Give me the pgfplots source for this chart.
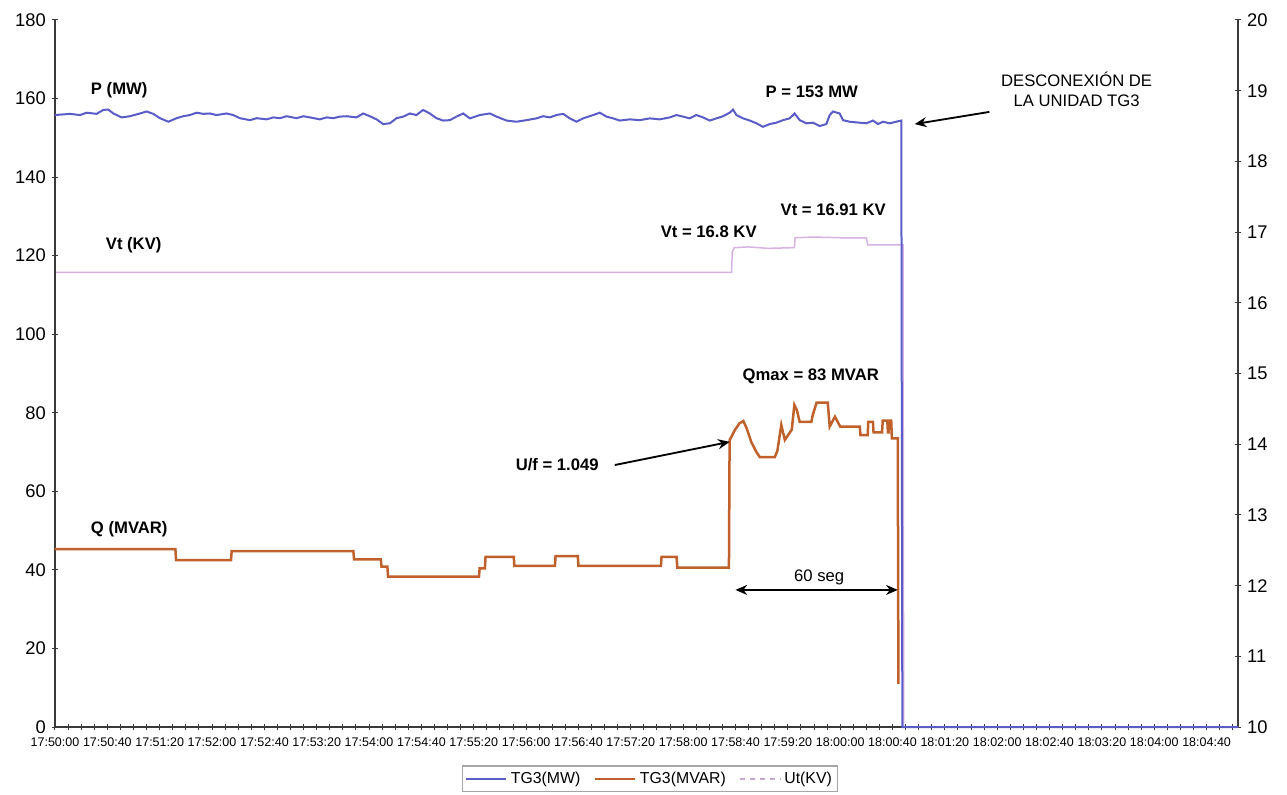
\documentclass[border=0pt]{standalone}
\usepackage{fontspec}
\setmainfont{Liberation Sans}
\usepackage{pgfplots}
\usepackage{pgfplotstable}
\pgfplotsset{compat=1.18}
\usetikzlibrary{arrows.meta}
\definecolor{pblue}{HTML}{5A5CC8}
\definecolor{qorange}{HTML}{C0602A}
\definecolor{ulav}{HTML}{D6B2E2}
\definecolor{axgray}{HTML}{3A3A3A}

% time in seconds after 17:50:00
\pgfplotstableread{
t P
0 155.8
11.5 156.1
19.1 155.8
24.2 156.4
31.8 156.1
36.9 157.1
40.7 157.2
44.6 156.2
50.9 155.2
57.3 155.5
64.9 156.2
70.0 156.7
75.1 156.1
80.2 155.0
86.6 154.1
92.9 155.0
98.0 155.5
103.1 155.8
108.2 156.4
113.3 156.1
118.4 156.2
123.5 155.8
131.1 156.2
136.2 155.8
141.3 155.0
149.0 154.5
154.0 155.0
161.7 154.7
166.8 155.2
171.9 155.0
177.0 155.5
184.6 155.0
189.7 155.5
194.8 155.2
202.4 154.7
207.5 155.2
212.6 155.0
217.7 155.4
222.8 155.5
230.4 155.2
235.5 156.2
240.6 155.5
245.7 154.7
250.8 153.5
255.9 153.7
261.0 155.0
266.1 155.4
271.2 156.2
276.2 155.8
281.3 157.1
286.4 156.2
291.5 155.0
296.6 154.4
301.7 154.5
306.8 155.4
311.9 156.2
317.0 154.95
324.6 155.8
332.3 156.2
337.4 155.4
345.0 154.4
352.6 154.1
360.3 154.5
367.9 154.95
373.0 155.5
378.1 155.2
383.2 155.8
388.3 156.1
393.4 154.95
398.5 154.1
403.6 154.95
411.2 155.8
416.3 156.4
421.4 155.4
426.5 154.95
431.6 154.4
439.2 154.7
446.8 154.5
454.5 154.95
462.1 154.7
469.8 155.2
474.9 155.8
479.9 155.4
485.0 154.95
490.1 155.8
495.2 155.2
500.3 154.4
505.4 154.95
510.5 155.5
515.6 156.4
518.1 157.2
520.7 155.8
525.8 154.95
530.9 154.4
536.0 153.7
541.0 152.8
546.1 153.5
551.2 153.85
556.3 154.5
561.4 154.95
565.2 156.2
569.1 154.5
574.1 153.7
579.2 153.85
584.3 153.0
589.4 153.5
592.0 155.8
594.5 156.7
599.6 156.2
602.2 154.5
607.2 154.1
614.9 153.85
620.0 153.7
625.1 154.4
628.9 153.5
632.7 154.1
637.8 153.7
646.7 154.4
647.5 0
904 0
}\Pdata

\pgfplotstableread{
t Q
0 45.3
92 45.3
92.5 42.5
134.5 42.5
135 44.8
228 44.8
228.5 42.7
249 42.7
249.5 40.8
254 40.8
254.5 38.3
324 38.3
324.5 40.4
328.5 40.4
329 43.3
350.6 43.3
351 41
382 41
382.5 43.5
399.5 43.5
400 41
463 41
463.5 43.3
475 43.3
475.5 40.6
515 40.6
515.5 73
519.5 75.6
523 77.3
526 77.9
528.6 76
532 72.6
536 70
538.6 68.7
550 68.7
552 70.3
555 76.9
557.7 73.1
563 75.7
565 82
567 80.6
569 77.7
578 77.7
579 79.4
582 82.6
590.5 82.6
592 76.5
596 79
600 76.5
615 76.5
615.5 74.3
621 74.3
621.5 77.7
625 77.7
625.5 75
632 75
632.5 78
636 78
636.5 75
637 75
637.5 78
639 78
639.5 73.5
644 73.5
644.5 11
}\Qdata

\pgfplotstableread{
t U
0 16.43
517 16.43
517.5 16.72
519 16.78
530 16.79
545 16.77
565 16.78
565.5 16.92
580 16.93
600 16.92
620 16.92
621 16.82
648 16.82
648.5 10
904 10
}\Udata

\begin{document}
\begin{tikzpicture}
\pgfplotsset{
  common/.style={
    scale only axis, width=709.8pt, height=424.2pt,
    xmin=0, xmax=904,
    axis line style={axgray, line width=0.9pt, -},
    tick align=center,
    major tick length=4pt, minor tick length=4pt,
    tick style={axgray, line width=0.6pt},
    /pgf/number format/assume math mode=true,
  }
}
% right axis (Ut) drawn first, so P and Q lie on top
\begin{axis}[common,
  ymin=10, ymax=20,
  axis y line*=right, axis x line=none,
  ytick={10,11,...,20},
  yticklabel style={font=\fontsize{11}{13}\selectfont},
  legend columns=3,
  legend style={at={(0.503,-0.0735)}, anchor=center, draw=gray!70, line width=0.8pt,
    font=\fontsize{9.5}{11}\selectfont, /tikz/every even column/.append style={column sep=6pt},
    inner sep=1.5pt},
  legend image code/.code={\draw[#1] (0cm,0cm) -- (0.85cm,0cm);},
]
\addlegendimage{pblue, line width=1.4pt}
\addlegendentry{TG3(MW)}
\addlegendimage{qorange, line width=1.6pt}
\addlegendentry{TG3(MVAR)}
\addlegendimage{ulav!80!gray, dashed, line width=0.9pt}
\addlegendentry{Ut(KV)}
\addplot[ulav, line width=0.9pt, forget plot] table[x=t,y=U] {\Udata};
\end{axis}

\begin{axis}[common,
  ymin=0, ymax=180,
  axis x line*=bottom, axis y line*=left,
  xtick={0,40,...,880}, minor xtick={0,10,...,900},
  xticklabels={17:50:00,17:50:40,17:51:20,17:52:00,17:52:40,17:53:20,17:54:00,17:54:40,17:55:20,17:56:00,17:56:40,17:57:20,17:58:00,17:58:40,17:59:20,18:00:00,18:00:40,18:01:20,18:02:00,18:02:40,18:03:20,18:04:00,18:04:40},
  xticklabel style={font=\fontsize{7.5}{9}\selectfont, yshift=-1pt},
  ytick={0,20,...,180},
  yticklabel style={font=\fontsize{11}{13}\selectfont},
  clip=false,
]
\addplot[qorange, line width=1.5pt] table[x=t,y=Q] {\Qdata};
\addplot[pblue, line width=1.2pt] table[x=t,y=P] {\Pdata};

\tikzset{ann/.style={font=\fontsize{10}{12}\selectfont\bfseries, text=black}}
\node[ann, anchor=west] at (axis cs:23,162.2) {P (MW)};
\node[ann, anchor=west] at (axis cs:538.6,161.7) {P = 153 MW};
\node[ann, anchor=west] at (axis cs:34.4,122.7) {Vt (KV)};
\node[ann, anchor=west] at (axis cs:458.4,126) {Vt = 16.8 KV};
\node[ann, anchor=west] at (axis cs:550,131.6) {Vt = 16.91 KV};
\node[ann] at (axis cs:577.5,89.4) {Qmax = 83 MVAR};
\node[ann, anchor=west] at (axis cs:347.6,66.7) {U/f = 1.049};
\node[ann, anchor=west] at (axis cs:23,50.4) {Q (MVAR)};
\node[font=\fontsize{10}{12}\selectfont, align=center] at (axis cs:780.7,162.4) {DESCONEXIÓN DE\\LA UNIDAD TG3};
\node[font=\fontsize{10}{12}\selectfont] at (axis cs:584,38.2) {60 seg};
\draw[black, line width=1.1pt, -{Stealth[length=7pt,width=6pt]}] (axis cs:714,156.6) -- (axis cs:657,153.5);
\draw[black, line width=1.1pt, -{Stealth[length=7pt,width=6pt]}] (axis cs:427.8,66.7) -- (axis cs:515.6,72.6);
\draw[black, line width=1.1pt, {Stealth[length=7pt,width=6pt]}-{Stealth[length=7pt,width=6pt]}] (axis cs:520,34.9) -- (axis cs:644,34.9);
\end{axis}
\path ([shift={(-33pt,-40.2pt)}]current axis.south west) rectangle ([shift={(29.4pt,12pt)}]current axis.north east);
\end{tikzpicture}
\end{document}
